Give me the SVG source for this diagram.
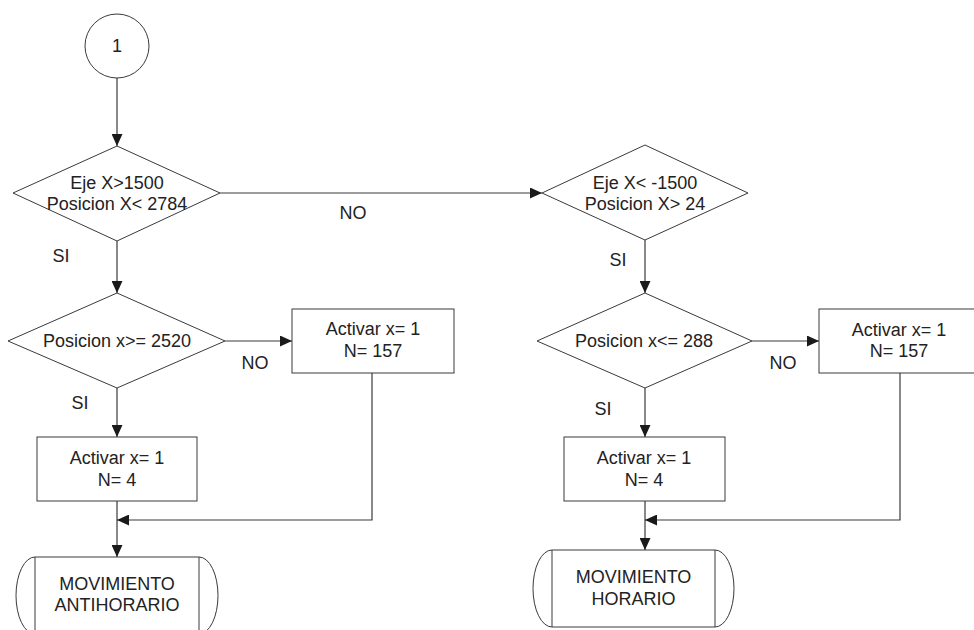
<svg xmlns="http://www.w3.org/2000/svg" width="974" height="630" viewBox="0 0 974 630">
  <style>
    .shape { fill: #fff; stroke: #3a3a3a; stroke-width: 1; }
    .line { fill: none; stroke: #3a3a3a; stroke-width: 1.2; }
    text { font-family: "Liberation Sans", Arial, sans-serif; font-size: 18px; fill: #222; text-anchor: middle; }
  </style>
  <defs>
    <marker id="arrow" markerUnits="userSpaceOnUse" markerWidth="12" markerHeight="11" refX="12" refY="5.5" orient="auto">
      <path d="M0,0 L12,5.5 L0,11 z" fill="#1a1a1a"/>
    </marker>
  </defs>
  <rect width="974" height="630" fill="#fff"/>

  <!-- connectors -->
  <g id="connectors">
    <path class="line" d="M117,78 V146" marker-end="url(#arrow)"/>
    <path class="line" d="M117,241 V293" marker-end="url(#arrow)"/>
    <path class="line" d="M220,193 H542" marker-end="url(#arrow)"/>
    <path class="line" d="M225,341 H292" marker-end="url(#arrow)"/>
    <path class="line" d="M117,388 V437" marker-end="url(#arrow)"/>
    <path class="line" d="M117,501 V557" marker-end="url(#arrow)"/>
    <path class="line" d="M372,373 V520 H117" marker-end="url(#arrow)"/>
    <path class="line" d="M645,240 V293" marker-end="url(#arrow)"/>
    <path class="line" d="M752,341 H819" marker-end="url(#arrow)"/>
    <path class="line" d="M645,388 V437" marker-end="url(#arrow)"/>
    <path class="line" d="M645,501 V550" marker-end="url(#arrow)"/>
    <path class="line" d="M900,373 V520 H645" marker-end="url(#arrow)"/>
    <text x="353" y="219">NO</text>
    <text x="61" y="262">SI</text>
    <text x="255" y="369">NO</text>
    <text x="80" y="409">SI</text>
    <text x="618" y="266">SI</text>
    <text x="783" y="369">NO</text>
    <text x="603" y="415">SI</text>
  </g>

  <!-- start connector -->
  <g id="start">
    <circle class="shape" cx="117" cy="46" r="32"/>
    <text x="117" y="52">1</text>
  </g>

  <!-- left branch -->
  <g id="dec-eje-pos">
    <polygon class="shape" points="117,146 220,193 117,241 13,193"/>
    <text x="117" y="189">Eje X&gt;1500</text>
    <text x="117" y="210">Posicion X&lt; 2784</text>
  </g>
  <g id="dec-pos-2520">
    <polygon class="shape" points="117,293 225,341 117,388 8,341"/>
    <text x="117" y="347">Posicion x&gt;= 2520</text>
  </g>
  <g id="act-157-left">
    <rect class="shape" x="292" y="309" width="162" height="64"/>
    <text x="373" y="335">Activar x= 1</text>
    <text x="373" y="357">N= 157</text>
  </g>
  <g id="act-4-left">
    <rect class="shape" x="37" y="437" width="160" height="64"/>
    <text x="117" y="464">Activar x= 1</text>
    <text x="117" y="486">N= 4</text>
  </g>
  <g id="mov-antihorario">
    <path class="shape" d="M35,557 H199 A19,38.5 0 0 1 199,634 H35 A19,38.5 0 0 1 35,557 Z"/>
    <path class="shape" d="M35,557 V634 M199,557 V634"/>
    <text x="117" y="590">MOVIMIENTO</text>
    <text x="117" y="611">ANTIHORARIO</text>
  </g>

  <!-- right branch -->
  <g id="dec-eje-neg">
    <polygon class="shape" points="645,145 748,193 645,240 542,193"/>
    <text x="645" y="189">Eje X&lt; -1500</text>
    <text x="645" y="210">Posicion X&gt; 24</text>
  </g>
  <g id="dec-pos-288">
    <polygon class="shape" points="645,293 752,341 645,388 537,341"/>
    <text x="644" y="347">Posicion x&lt;= 288</text>
  </g>
  <g id="act-157-right">
    <rect class="shape" x="819" y="309" width="162" height="64"/>
    <text x="899" y="336">Activar x= 1</text>
    <text x="899" y="357">N= 157</text>
  </g>
  <g id="act-4-right">
    <rect class="shape" x="564" y="437" width="161" height="64"/>
    <text x="644" y="464">Activar x= 1</text>
    <text x="644" y="486">N= 4</text>
  </g>
  <g id="mov-horario">
    <path class="shape" d="M552,550 H715 A19,38.5 0 0 1 715,627 H552 A19,38.5 0 0 1 552,550 Z"/>
    <path class="shape" d="M552,550 V627 M715,550 V627"/>
    <text x="633.5" y="583">MOVIMIENTO</text>
    <text x="633.5" y="605">HORARIO</text>
  </g>
</svg>
